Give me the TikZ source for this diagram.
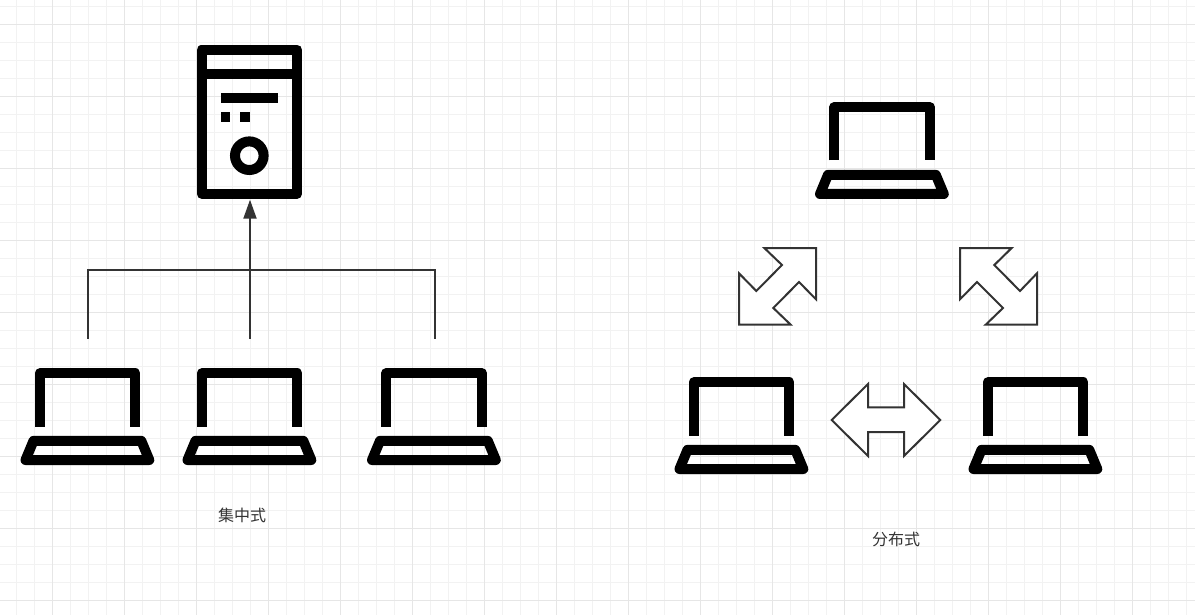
\documentclass[tikz,border=0pt]{standalone}
\usepackage{fontspec}
\newfontfamily\cjkfont{Noto Sans CJK SC}
\usetikzlibrary{arrows.meta,positioning}
\definecolor{minorline}{HTML}{F2F2F2}
\definecolor{majorline}{HTML}{E6E6E6}
\definecolor{wireink}{HTML}{333333}
\tikzset{minorgrid/.style={draw=minorline,line width=1.2pt},
    majorgrid/.style={draw=majorline,line width=1.2pt},
    iconbox/.style={inner sep=0,outer sep=0},
    iconstroke/.style={draw=black,line width=10pt,line join=round},
    wire/.style={draw=wireink,line width=2pt},
    wirearrow/.style={wire,-{Triangle[length=19pt,width=13pt]},shorten >=1pt},
    blockarrow/.style={draw=wireink,fill=white,line width=2pt,line join=miter},
    caption/.style={font=\cjkfont\fontsize{16}{16}\selectfont,text=wireink,inner sep=0}
}
\newcommand{\laptopicon}[3]
{
% args: (name, x of centre, y of top edge)
    \node (#1) [iconbox,anchor=north,minimum width=134pt,minimum height=96.5pt] at (#2,#3) {};
    \coordinate (#1port) at (#2+0.5,#3-30);

    \begin{scope}[shift={(#2,#3)}]
        \draw [iconstroke] (-47.8,58) -- (-47.8,4.8) -- (47.9,4.8) -- (47.9,58);
        \draw [iconstroke] (-54,72.3) -- (-62,91.5) -- (61.8,91.5) -- (53.8,72.3) -- cycle;
    \end{scope}
}

\begin{document}
\begin{tikzpicture}[x=1pt,y=-1pt]

\useasboundingbox (0,0) rectangle (1195,615);
\fill [white] (0,0) rectangle (1195,615);

% background grid
\foreach \x in {16.5,34.5,...,1195}
    \draw [minorgrid] (\x,0) -- (\x,615);
\foreach \y in {6.5,24.5,...,615}
    \draw [minorgrid] (0,\y) -- (1195,\y);
\foreach \x in {52.5,124.5,...,1195}
    \draw [majorgrid] (\x,0) -- (\x,615);
\foreach \y in {24.5,96.5,...,615}
    \draw [majorgrid] (0,\y) -- (1195,\y);

% server
\node (server) [iconbox,minimum width=105.3pt,minimum height=154pt] at (250,121.7) {};
\draw [iconstroke] (201.6,49.7) rectangle (297.2,193.8);
\draw [draw=black,line width=10pt] (201.6,73.6) -- (297.2,73.6);
\fill (220.7,93) rectangle (278.3,102.7);
\foreach \x in {220.7,240}
    \fill (\x,112.3) rectangle ++(9.7,9.7);
\draw [draw=black,line width=10pt] (249.3,155.7) circle (14.3);

% centralised side
\laptopicon{lapa}{87.5}{368.5}
\laptopicon{lapb}{249.5}{368.5}
\laptopicon{lapc}{434}{368.5}

\coordinate (hub) at (250,269.5);
\draw [wire] (lapaport) |- (hub) -| (lapcport);
\draw [wirearrow] (lapbport) -- (server.south);

\node (central) [caption] at (242,515.5) {集中式};

% distributed side
\laptopicon{lapd}{882}{102.5}
\laptopicon{lape}{741.5}{377.5}
\laptopicon{lapf}{1035.5}{377.5}

\draw [blockarrow] (764.3,248) -- (816,248) -- (816,299.3) -- (799,282) -- (773.3,308) -- (790.7,324.7)
    -- (739,324.7) -- (739,273.3) -- (756.3,291) -- (782,265) -- cycle;
\draw [blockarrow] (960,248) -- (1011.7,248) -- (994.3,265) -- (1020,291) -- (1037,273.3) -- (1037,324.7)
    -- (985.7,324.7) -- (1003,308) -- (977,282) -- (960,299.3) -- cycle;
\draw [blockarrow] (831.7,420) -- (868,384) -- (868,407.3) -- (904,407.3) -- (904,384) -- (940.3,420)
    -- (904,456) -- (904,432) -- (868,432) -- (868,456) -- cycle;

\node (distrib) [caption] at (896,539) {分布式};

\end{tikzpicture}
\end{document}
